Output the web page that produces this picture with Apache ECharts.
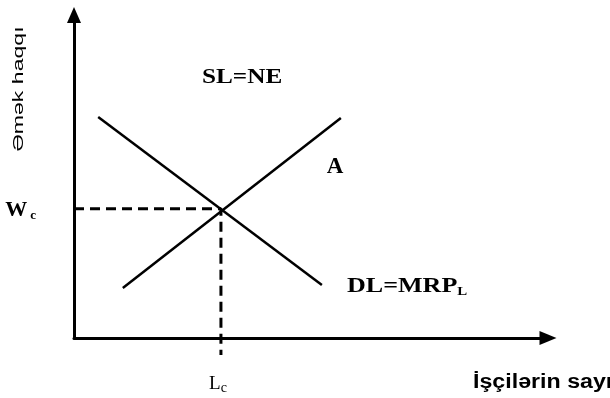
<!DOCTYPE html>
<html style="height: 100%">
<head>
	<meta charset="utf-8">
	<script type="text/javascript" src="https://cdn.jsdelivr.net/npm/echarts@6.0.0/dist/echarts.min.js"></script>
</head>
<body style="height: 100%; margin: 0; background: #fff">
<div id="container" style="width: 610px; height: 398px"></div>
<script type="text/javascript">
    // curve end points, in axis units (0..100 on both axes)
    var supply = [[10.3, 15.5], [56.3, 68.1]];
    var demand = [[5.1, 68.4], [52.3, 16.4]];
    // equilibrium
    var Lc = 31;
    var Wc = 40;
    var guideBottom = -5.3; // dashed drop line runs a little under the x axis

    var xTickLabel = ['L', 'c'];
    var yTickLabel = ['W', 'c'];
    var xTitle = 'İşçilərin sayı';
    var yTitle = 'Əmək haqqı';
    var supplyName = 'SL=NE';
    var demandName = ['DL=MRP', 'L'];
    var pointName = 'A';

    var serif = '"Liberation Serif", "DejaVu Serif", serif';
    var sans = '"Liberation Sans", Arial, sans-serif';

    var dom = document.getElementById("container");
    var myChart = echarts.init(dom);

    var axisLine = function (size) {
        return {
            show: true,
            onZero: false,
            symbol: ['none', 'triangle'],
            symbolSize: size,
            lineStyle: {color: '#000', width: 3}
        };
    };

    var option = {
        backgroundColor: '#fff',
        animation: false,
        grid: {left: 74, right: 62, top: 15, bottom: 60},
        xAxis: {
            type: 'value',
            min: 0,
            max: 100,
            axisLine: axisLine([14, 17]),
            axisTick: {show: false},
            splitLine: {show: false},
            axisLabel: {
                customValues: [Lc],
                margin: 35,
                formatter: function () {
                    return '{m|' + xTickLabel[0] + '}{s|' + xTickLabel[1] + '}';
                },
                rich: {
                    m: {fontFamily: serif, fontSize: 19, color: '#000'},
                    s: {fontFamily: serif, fontSize: 14, color: '#000', padding: [8, 6, 0, 0]}
                }
            }
        },
        yAxis: {
            type: 'value',
            min: 0,
            max: 100,
            axisLine: axisLine([14, 16]),
            axisTick: {show: false},
            splitLine: {show: false},
            axisLabel: {
                customValues: [Wc],
                margin: 38,
                formatter: function () {
                    return '{m|' + yTickLabel[0] + '}{s|' + yTickLabel[1] + '}';
                },
                rich: {
                    m: {fontFamily: serif, fontSize: 22, fontWeight: 'bold', color: '#000', padding: [4, 0, 0, 0]},
                    s: {fontFamily: serif, fontSize: 13, fontWeight: 'bold', color: '#000', padding: [14, 0, 0, 3]}
                }
            }
        },
        graphic: [
            {
                type: 'text', x: 19, y: 89, rotation: Math.PI / 2, scaleX: 1.65,
                style: {text: yTitle, fontFamily: sans, fontSize: 14, fontWeight: 500, fill: '#000', align: 'center', verticalAlign: 'middle'}
            },
            {
                type: 'text', x: 473, y: 382, scaleX: 1.16,
                style: {text: xTitle, fontFamily: sans, fontSize: 20, fontWeight: 'bold', fill: '#000', align: 'left', verticalAlign: 'middle'}
            },
            {
                type: 'text', x: 202, y: 78, scaleX: 1.2,
                style: {text: supplyName, fontFamily: serif, fontSize: 21, fontWeight: 'bold', fill: '#000', align: 'left', verticalAlign: 'middle'}
            },
            {
                type: 'text', x: 335, y: 167,
                style: {text: pointName, fontFamily: serif, fontSize: 23, fontWeight: 'bold', fill: '#000', align: 'center', verticalAlign: 'middle'}
            },
            {
                type: 'text', x: 347, y: 287, scaleX: 1.24,
                style: {
                    text: '{m|' + demandName[0] + '}{s|' + demandName[1] + '}',
                    align: 'left', verticalAlign: 'middle',
                    rich: {
                        m: {fontFamily: serif, fontSize: 21, fontWeight: 'bold', fill: '#000'},
                        s: {fontFamily: serif, fontSize: 12, fontWeight: 'bold', fill: '#000', padding: [10, 0, 0, 0]}
                    }
                }
            }
        ],
        series: [
            {
                name: supplyName,
                type: 'line',
                data: supply,
                symbol: 'none',
                silent: true,
                lineStyle: {color: '#000', width: 2.5}
            },
            {
                name: demandName.join(''),
                type: 'line',
                data: demand,
                symbol: 'none',
                silent: true,
                lineStyle: {color: '#000', width: 2.5}
            },
            {
                name: 'guide',
                type: 'line',
                data: [[0, Wc], [Lc, Wc], [Lc, guideBottom]],
                symbol: 'none',
                silent: true,
                clip: false,
                lineStyle: {color: '#000', width: 3, type: [10, 6]}
            }
        ]
    };

    myChart.setOption(option);
</script>
</body>
</html>
